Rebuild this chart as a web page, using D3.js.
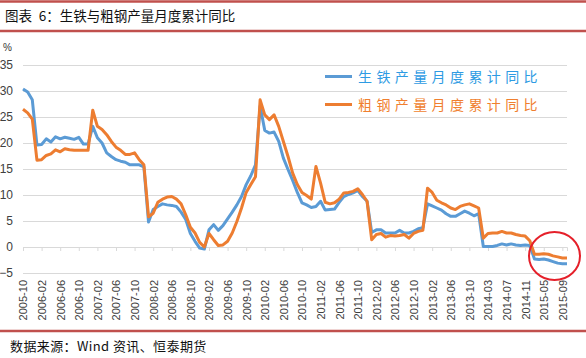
<!DOCTYPE html>
<html>
<head>
<meta charset="utf-8">
<script src="https://cdn.jsdelivr.net/npm/d3@7"></script>
<style>
  body { margin: 0; background: #fff; }
  text { font-family: "Liberation Sans", Arial, sans-serif; }
  .cjk { font-family: "Noto Sans CJK SC", sans-serif; }
</style>
</head>
<body>
<div id="chart"></div>
<script>
// months on the category axis (Jan 2014, Dec 2014 and Jan 2015 are absent in the source)
var months = [
  '2005-10','2005-11','2005-12',
  '2006-01','2006-02','2006-03','2006-04','2006-05','2006-06','2006-07','2006-08','2006-09','2006-10','2006-11','2006-12',
  '2007-01','2007-02','2007-03','2007-04','2007-05','2007-06','2007-07','2007-08','2007-09','2007-10','2007-11','2007-12',
  '2008-01','2008-02','2008-03','2008-04','2008-05','2008-06','2008-07','2008-08','2008-09','2008-10','2008-11','2008-12',
  '2009-01','2009-02','2009-03','2009-04','2009-05','2009-06','2009-07','2009-08','2009-09','2009-10','2009-11','2009-12',
  '2010-01','2010-02','2010-03','2010-04','2010-05','2010-06','2010-07','2010-08','2010-09','2010-10','2010-11','2010-12',
  '2011-01','2011-02','2011-03','2011-04','2011-05','2011-06','2011-07','2011-08','2011-09','2011-10','2011-11','2011-12',
  '2012-01','2012-02','2012-03','2012-04','2012-05','2012-06','2012-07','2012-08','2012-09','2012-10','2012-11','2012-12',
  '2013-01','2013-02','2013-03','2013-04','2013-05','2013-06','2013-07','2013-08','2013-09','2013-10','2013-11','2013-12',
  '2014-02','2014-03','2014-04','2014-05','2014-06','2014-07','2014-08','2014-09','2014-10','2014-11',
  '2015-02','2015-03','2015-04','2015-05','2015-06','2015-07','2015-08','2015-09','2015-10'
];

var xTickLabels = [
  '2005-10','2006-02','2006-06','2006-10','2007-02','2007-06','2007-10','2008-02','2008-06','2008-10',
  '2009-02','2009-06','2009-10','2010-02','2010-06','2010-10','2011-02','2011-06','2011-10','2012-02',
  '2012-06','2012-10','2013-02','2013-06','2013-10','2014-03','2014-07','2014-11','2015-05','2015-09'
];

var yTicks = [-5, 0, 5, 10, 15, 20, 25, 30, 35];

// 生铁产量月度累计同比 (%)
var pigIron = [
  30.4, 29.8, 28.3, 19.6, 19.7, 20.8, 20.2, 21.2, 20.8, 21.1,
  20.9, 20.7, 21.1, 19.8, 19.8, 23.2, 21.0, 20.0, 18.1, 17.4,
  16.8, 16.5, 16.3, 15.8, 15.8, 15.8, 15.4, 4.8, 7.2, 7.8,
  8.3, 8.1, 8.0, 7.8, 6.7, 5.3, 2.6, 1.1, -0.2, -0.4,
  3.3, 4.3, 3.2, 4.1, 5.4, 6.7, 8.1, 9.7, 12.0, 13.7,
  15.8, 27.1, 22.4, 21.9, 22.1, 20.3, 17.1, 14.9, 12.8, 10.5,
  8.5, 8.1, 7.6, 7.8, 8.8, 7.1, 7.2, 7.3, 8.6, 9.7,
  10.1, 10.4, 10.9, 9.7, 8.8, 2.8, 3.3, 3.3, 2.7, 2.7,
  2.7, 3.2, 2.7, 2.7, 3.0, 3.5, 3.7, 8.3, 7.9, 7.5,
  7.1, 6.4, 5.9, 5.9, 6.4, 6.9, 6.5, 6.0, 6.4, 0.1,
  0.1, 0.1, 0.3, 0.6, 0.4, 0.6, 0.4, 0.3, 0.4, 0.3,
  -2.3, -2.4, -2.3, -2.5, -2.8, -3.1, -3.2, -3.2
];

// 粗钢产量月度累计同比 (%)
var crudeSteel = [
  26.5, 25.8, 24.6, 16.7, 16.8, 17.6, 17.9, 18.7, 18.3, 18.9,
  18.7, 18.6, 18.6, 18.6, 18.6, 26.3, 23.2, 22.6, 21.6, 20.3,
  19.2, 18.6, 17.8, 17.8, 18.1, 16.8, 15.8, 5.8, 6.5, 8.6,
  9.2, 9.6, 9.7, 9.2, 8.3, 6.2, 3.8, 2.7, 0.9, 0.0,
  2.6, 1.4, 0.3, 0.4, 1.1, 2.7, 4.9, 7.5, 10.5, 12.0,
  13.5, 28.3, 25.4, 24.5, 25.4, 23.2, 20.3, 17.4, 14.2, 12.0,
  10.5, 9.9, 9.2, 15.5, 12.3, 8.6, 8.3, 8.5, 9.2, 10.4,
  10.5, 10.7, 11.2, 10.1, 8.8, 1.4, 2.4, 2.6, 1.9, 2.2,
  2.1, 2.2, 2.4, 1.7, 2.6, 3.0, 3.2, 11.3, 10.5, 9.0,
  8.5, 8.1, 7.5, 7.2, 7.8, 8.1, 8.3, 7.9, 7.5, 1.7,
  2.6, 2.7, 2.7, 3.0, 2.7, 2.7, 2.4, 2.2, 2.1, 1.2,
  -1.4, -1.4, -1.3, -1.4, -1.7, -1.9, -2.1, -2.1
];

var seriesNames = ['生铁产量月度累计同比', '粗钢产量月度累计同比'];
var seriesColors = ['#5b9bd5', '#ed7d31'];
var legendColors = ['#2e9be3', '#f07f2f'];

var width = 586, height = 358;
var plot = { left: 23, right: 567, top: 65, bottom: 273 };

var svg = d3.select('#chart').append('svg')
  .attr('width', width)
  .attr('height', height);

svg.append('rect').attr('width', width).attr('height', height).attr('fill', '#fff');

// header / footer rules
[1.5, 31, 331].forEach(function (yy) {
  svg.append('line')
    .attr('x1', 0).attr('x2', width)
    .attr('y1', yy).attr('y2', yy)
    .attr('stroke', '#c0504d').attr('stroke-width', 2.5);
});

svg.append('text')
  .attr('class', 'cjk')
  .attr('x', 5).attr('y', 20.5)
  .attr('fill', '#111')
  .style('font-size', '13.5px')
  .style('white-space', 'pre')
  .text('图表\u20026：生铁与粗钢产量月度累计同比');

svg.append('text')
  .attr('class', 'cjk')
  .attr('x', 10).attr('y', 351)
  .attr('fill', '#111')
  .style('font-size', '13px')
  .style('letter-spacing', '0.4px')
  .text('数据来源：Wind 资讯、恒泰期货');

svg.append('text')
  .attr('x', 3).attr('y', 51)
  .attr('fill', '#333')
  .style('font-size', '10px')
  .text('%');

var x = d3.scalePoint().domain(months).range([plot.left, plot.right]);
var y = d3.scaleLinear().domain([-5, 35]).range([plot.bottom, plot.top]);

// y axis with gridlines
var yAxis = svg.append('g')
  .attr('transform', 'translate(' + plot.left + ',0)')
  .call(d3.axisLeft(y).tickValues(yTicks).tickSize(-(plot.right - plot.left)).tickPadding(10));
yAxis.select('.domain').remove();
yAxis.selectAll('line').attr('stroke', '#d9d9d9');
yAxis.selectAll('text')
  .attr('fill', '#404040')
  .style('font-size', '12px')
  .style('font-family', '"Liberation Sans", Arial, sans-serif');

// category axis crossing at zero: tick marks only
var xTicks = svg.append('g')
  .attr('transform', 'translate(0,' + y(0) + ')')
  .call(d3.axisBottom(x).tickValues(xTickLabels).tickSize(4).tickFormat(''));
xTicks.select('.domain').attr('stroke', '#d9d9d9');
xTicks.selectAll('line').attr('stroke', '#d9d9d9');

// category labels at the bottom of the plot area
var xLabels = svg.append('g')
  .attr('transform', 'translate(0,' + plot.bottom + ')')
  .call(d3.axisBottom(x).tickValues(xTickLabels).tickSize(0));
xLabels.select('.domain').remove();
xLabels.selectAll('text')
  .attr('transform', 'rotate(-90)')
  .attr('x', -7).attr('y', 0).attr('dy', '0.35em')
  .style('text-anchor', 'end')
  .attr('fill', '#404040')
  .style('font-size', '11px')
  .style('font-family', '"Liberation Sans", Arial, sans-serif');

var line = d3.line()
  .x(function (d, i) { return x(months[i]); })
  .y(function (d) { return y(d); });

[pigIron, crudeSteel].forEach(function (vals, k) {
  svg.append('path')
    .attr('d', line(vals))
    .attr('fill', 'none')
    .attr('stroke', seriesColors[k])
    .attr('stroke-width', 3)
    .attr('stroke-linejoin', 'round');
});

// legend
var legend = svg.append('g');
seriesNames.forEach(function (name, k) {
  var ly = 76.5 + k * 28;
  legend.append('line')
    .attr('x1', 325).attr('x2', 352)
    .attr('y1', ly).attr('y2', ly)
    .attr('stroke', seriesColors[k]).attr('stroke-width', 3);
  legend.append('text')
    .attr('class', 'cjk')
    .attr('x', 358).attr('y', ly)
    .attr('dy', '0.36em')
    .attr('fill', legendColors[k])
    .style('font-size', '14px')
    .style('letter-spacing', '4.4px')
    .text(name);
});

// red highlight ring
svg.append('ellipse')
  .attr('cx', 554.5).attr('cy', 256)
  .attr('rx', 25.5).attr('ry', 24)
  .attr('fill', 'none')
  .attr('stroke', '#e5202a')
  .attr('stroke-width', 2);
</script>
</body>
</html>
